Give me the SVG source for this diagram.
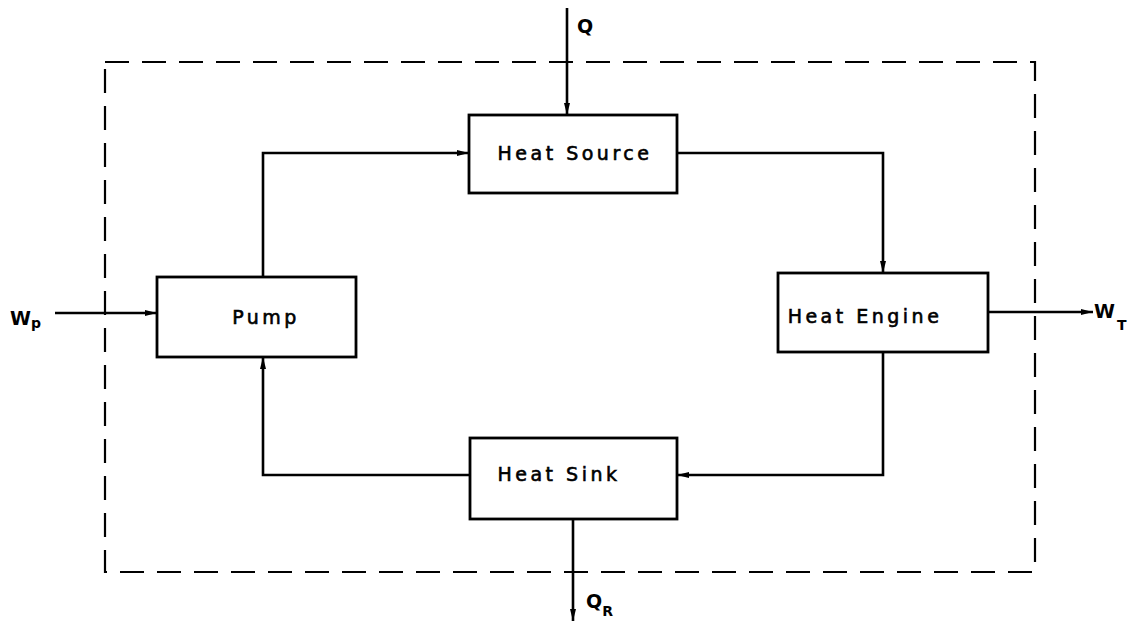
<svg xmlns="http://www.w3.org/2000/svg" width="1130" height="626" viewBox="0 0 1130 626">
<style>
.box{fill:#fff;stroke:#000;stroke-width:2.8}
.ln{fill:none;stroke:#000;stroke-width:2.6}
.bnd{fill:none;stroke:#000;stroke-width:2.2;stroke-dasharray:24 13}
.t{font-family:"DejaVu Sans",sans-serif;font-size:19px;letter-spacing:3.5px;fill:#000;stroke:#000;stroke-width:0.6}
.lbl{font-family:"DejaVu Sans",sans-serif;font-size:19px;font-weight:bold;fill:#000}
.sub{font-family:"DejaVu Sans",sans-serif;font-size:14px;font-weight:bold;fill:#000}
</style>
<defs>
<marker id="ah" viewBox="0 0 12 8" refX="12" refY="4" markerWidth="12" markerHeight="8" markerUnits="userSpaceOnUse" orient="auto">
<path d="M0,1 L12,4 L0,7 Z" fill="#000"/>
</marker>
</defs>
<rect width="1130" height="626" fill="#fff"/>
<rect id="boundary" class="bnd" x="105" y="62" width="930" height="510"/>
<g id="connectors">
<path class="ln" d="M263,278 V153 H469" marker-end="url(#ah)"/>
<path class="ln" d="M677,153 H883 V273" marker-end="url(#ah)"/>
<path class="ln" d="M883,352 V475 H677" marker-end="url(#ah)"/>
<path class="ln" d="M470,475 H263 V357" marker-end="url(#ah)"/>
<path class="ln" d="M567,8 V115" marker-end="url(#ah)"/>
<path class="ln" d="M55,313 H157" marker-end="url(#ah)"/>
<path class="ln" d="M988,312 H1093" marker-end="url(#ah)"/>
<path class="ln" d="M573,519 V621" marker-end="url(#ah)"/>
</g>
<g id="heat-source">
<rect class="box" x="469" y="115" width="208" height="78"/>
<text class="t" x="575" y="160" text-anchor="middle">Heat Source</text>
</g>
<g id="pump">
<rect class="box" x="157" y="277" width="199" height="80"/>
<text class="t" x="266" y="324" text-anchor="middle">Pump</text>
</g>
<g id="heat-engine">
<rect class="box" x="778" y="273" width="210" height="79"/>
<text class="t" x="865" y="323" text-anchor="middle">Heat Engine</text>
</g>
<g id="heat-sink">
<rect class="box" x="470" y="438" width="207" height="81"/>
<text class="t" x="559" y="481" text-anchor="middle">Heat Sink</text>
</g>
<g id="labels">
<text class="lbl" x="577" y="33">Q</text>
<text class="lbl" x="10" y="325">W<tspan class="sub" dy="3">p</tspan></text>
<text class="lbl" x="1094" y="318">W<tspan class="sub" dx="2" dy="12">T</tspan></text>
<text class="lbl" x="586" y="608">Q<tspan class="sub" dy="8">R</tspan></text>
</g>
</svg>
